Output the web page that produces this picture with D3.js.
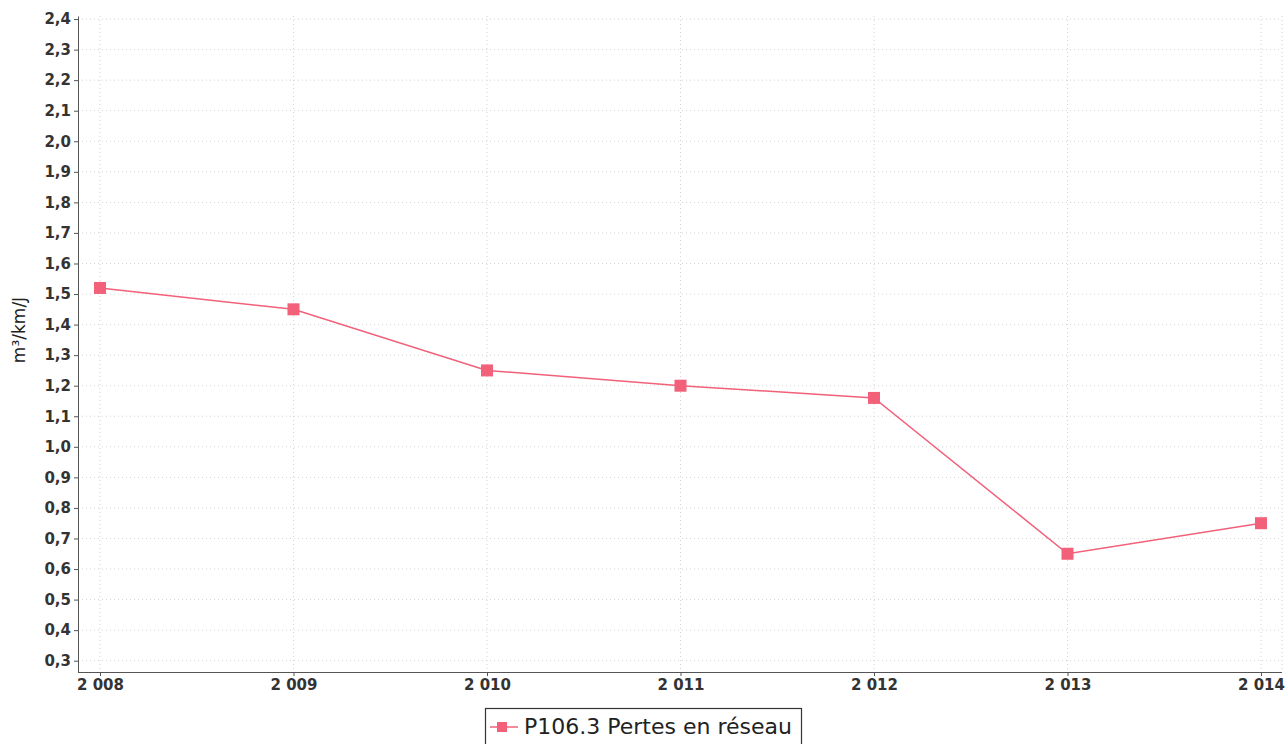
<!DOCTYPE html>
<html><head><meta charset="utf-8">
<script src="https://cdn.jsdelivr.net/npm/d3@7"></script>
<style>
body{margin:0;background:#fff;}
svg{display:block;}
</style></head>
<body>
<svg id="chart" width="1287" height="744"></svg>
<script>
const years = [2008, 2009, 2010, 2011, 2012, 2013, 2014];
const values = [1.52, 1.45, 1.25, 1.20, 1.16, 0.65, 0.75];
const yTicks = [0.3,0.4,0.5,0.6,0.7,0.8,0.9,1.0,1.1,1.2,1.3,1.4,1.5,1.6,1.7,1.8,1.9,2.0,2.1,2.2,2.3,2.4];
const seriesName = "P106.3 Pertes en réseau";
const yLabel = "m³/km/J";

(function(){
const svg = d3.select("#chart");
const pL = 78, pR = 1282, pT = 16, pB = 672;
const x = d3.scaleLinear().domain([2008, 2014]).range([100, 1261]);
const y = d3.scaleLinear().domain([0.263, 2.41]).range([pB, pT]);
const color = "#f2607a";
const fmt = v => v.toFixed(1).replace(".", ",");
const fmtYear = v => { const s = String(v); return s[0] + " " + s.slice(1); };
const font = "Tahoma, 'DejaVu Sans', sans-serif";

// grid
const grid = svg.append("g");
grid.selectAll("line.h").data(yTicks).join("line")
  .attr("x1", pL).attr("x2", pR)
  .attr("y1", d => y(d)).attr("y2", d => y(d))
  .attr("stroke", "#d4d4d4").attr("stroke-dasharray", "1,3");
grid.selectAll("line.v").data(years).join("line")
  .attr("x1", d => x(d)).attr("x2", d => x(d))
  .attr("y1", pT).attr("y2", pB)
  .attr("stroke", "#d4d4d4").attr("stroke-dasharray", "1,3");
grid.append("line").attr("x1", pR).attr("x2", pR).attr("y1", pT).attr("y2", pB)
  .attr("stroke", "#d0d0d0").attr("stroke-dasharray", "1,3");

// y axis
const yAxis = svg.append("g").attr("transform", `translate(${pL},0)`)
  .call(d3.axisLeft(y).tickValues(yTicks).tickFormat(fmt).tickSize(4).tickSizeOuter(0));
yAxis.select(".domain").attr("stroke", "#555");
yAxis.selectAll(".tick line").attr("stroke", "#555");
yAxis.selectAll("text").attr("font-family", font).attr("font-size", 15)
  .attr("font-weight", "bold").attr("fill", "#333").attr("x", -7);

// x axis
const xAxis = svg.append("g").attr("transform", `translate(0,${pB})`)
  .call(d3.axisBottom(x).tickValues(years).tickFormat(fmtYear).tickSize(4).tickSizeOuter(0));
xAxis.select(".domain").attr("d", `M${pL},0.5H${pR}`).attr("stroke", "#555");
xAxis.selectAll(".tick line").attr("stroke", "#555");
xAxis.selectAll("text").attr("font-family", font).attr("font-size", 15)
  .attr("font-weight", "bold").attr("fill", "#333").attr("dy", "0.71em").attr("y", 7);

// y label
svg.append("text").attr("transform", `translate(25,330) rotate(-90)`)
  .attr("text-anchor", "middle").attr("font-family", font).attr("font-size", 17)
  .attr("fill", "#222").text(yLabel);

// line
const line = d3.line().x((d, i) => x(years[i])).y(d => y(d));
svg.append("path").datum(values).attr("d", line)
  .attr("fill", "none").attr("stroke", color).attr("stroke-width", 1.5);
svg.selectAll("rect.pt").data(values).join("rect")
  .attr("x", (d, i) => x(years[i]) - 6).attr("y", d => y(d) - 6)
  .attr("width", 12).attr("height", 12).attr("fill", color);

// legend
const lg = svg.append("g").attr("transform", "translate(485,708)");
lg.append("rect").attr("x", 0.5).attr("y", 0.5).attr("width", 316).attr("height", 40)
  .attr("fill", "#fff").attr("stroke", "#333").attr("stroke-width", 1.2);
lg.append("line").attr("x1", 5).attr("x2", 33).attr("y1", 19).attr("y2", 19)
  .attr("stroke", color).attr("stroke-width", 1.5);
lg.append("rect").attr("x", 12).attr("y", 14).attr("width", 10).attr("height", 10).attr("fill", color);
lg.append("text").attr("x", 39).attr("y", 26).attr("font-family", font).attr("font-size", 22)
  .attr("fill", "#222").text(seriesName);
})();
</script>
</body></html>
